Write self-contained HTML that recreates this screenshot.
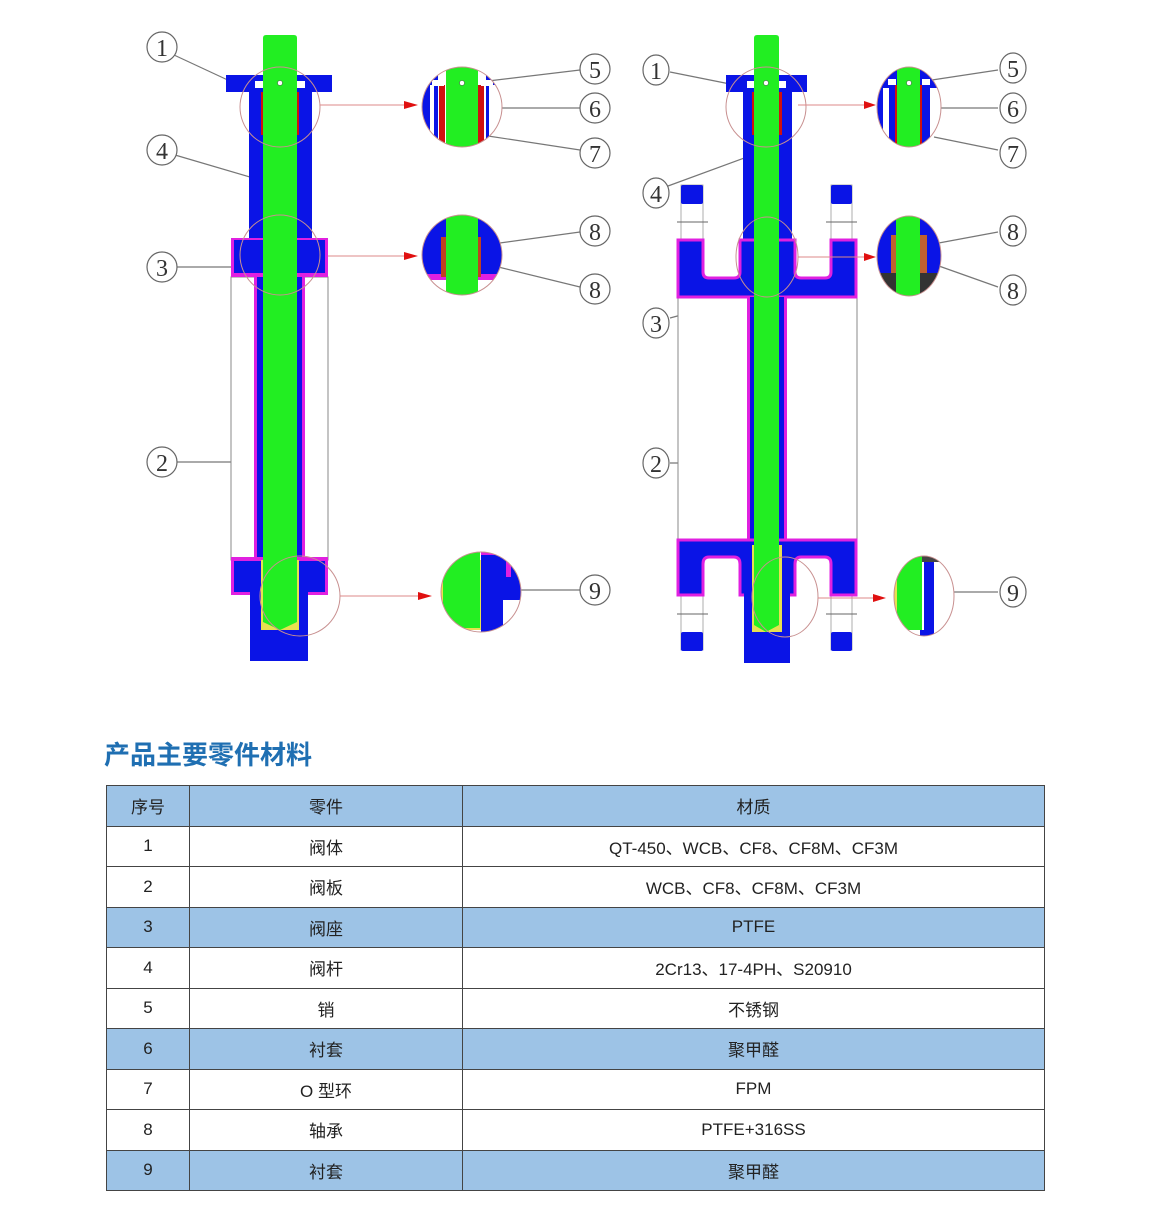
<!DOCTYPE html>
<html><head><meta charset="utf-8"><style>
html,body{margin:0;padding:0;background:#fff;width:1150px;height:1222px;overflow:hidden;position:relative;font-family:"Liberation Sans","Noto Sans CJK SC",sans-serif}
svg{position:absolute;left:0;top:0}
.title{position:absolute;left:104px;top:735px;font-size:26px;font-weight:bold;color:#1f6fb2;font-family:"Noto Sans CJK SC","WenQuanYi Zen Hei",sans-serif;letter-spacing:0px}
table{position:absolute;left:106px;top:785px;width:939px;height:406px;border-collapse:collapse;font-size:17px;color:#222}
td{border:1.5px solid #444;text-align:center;padding:0}
tr.b td{background:#9dc3e6}
</style></head><body>
<svg width="1150" height="720" viewBox="0 0 1150 720">
<defs>
<clipPath id="c1"><circle cx="462" cy="107" r="40"/></clipPath>
<clipPath id="c2"><circle cx="462" cy="255" r="40"/></clipPath>
<clipPath id="c3"><circle cx="481" cy="592" r="40"/></clipPath>
<clipPath id="c4"><ellipse cx="909" cy="107" rx="32" ry="40"/></clipPath>
<clipPath id="c5"><ellipse cx="909" cy="256" rx="32" ry="40"/></clipPath>
<clipPath id="c6"><ellipse cx="924" cy="596" rx="30" ry="40"/></clipPath>
</defs>
<g stroke="#777" stroke-width="1.2" fill="none">
<line x1="174" y1="55" x2="232" y2="82"/>
<line x1="175" y1="155" x2="277" y2="185"/>
<line x1="177" y1="267" x2="232" y2="267"/>
<line x1="177" y1="462" x2="256" y2="462"/>
<line x1="580" y1="70" x2="488" y2="81"/>
<line x1="580" y1="108" x2="481" y2="108"/>
<line x1="580" y1="150" x2="488" y2="136"/>
<line x1="580" y1="232" x2="485" y2="245"/>
<line x1="580" y1="287" x2="478" y2="262"/>
<line x1="580" y1="590" x2="500" y2="590"/>
<line x1="670" y1="72" x2="730" y2="84"/>
<line x1="668" y1="186" x2="766" y2="150"/>
<line x1="670" y1="318" x2="748" y2="297"/>
<line x1="670" y1="463" x2="749" y2="463"/>
<line x1="998" y1="70" x2="932" y2="80"/>
<line x1="998" y1="108" x2="926" y2="108"/>
<line x1="998" y1="150" x2="934" y2="137"/>
<line x1="998" y1="232" x2="928" y2="245"/>
<line x1="998" y1="287" x2="922" y2="260"/>
<line x1="998" y1="592" x2="924" y2="592"/>
</g>
<!-- LEFT -->
<rect x="231" y="277" width="97" height="283" fill="#fff" stroke="#888" stroke-width="1"/>
<rect x="226" y="75" width="106" height="17" fill="#0a14e6"/>
<rect x="249" y="92" width="63" height="150" fill="#0a14e6"/>
<rect x="255" y="81" width="8" height="7" fill="#fff"/><rect x="297" y="81" width="8" height="7" fill="#fff"/>
<rect x="231" y="238" width="97" height="39" fill="#e020e0"/>
<rect x="234" y="240" width="91" height="33" fill="#0a14e6"/>
<rect x="254" y="277" width="51" height="285" fill="#e020e0"/>
<rect x="257" y="277" width="45" height="285" fill="#0a14e6"/>
<rect x="231" y="557" width="97" height="38" fill="#e020e0"/>
<rect x="234" y="561" width="91" height="31" fill="#0a14e6"/>
<rect x="250" y="590" width="58" height="71" fill="#0a14e6"/>
<rect x="261" y="92" width="3" height="43" fill="#d01010"/><rect x="296" y="92" width="3" height="43" fill="#d01010"/>
<rect x="261" y="560" width="38" height="70" fill="#e8e050"/>
<path d="M263 38 Q263 35 266 35 L294 35 Q297 35 297 38 L297 622 L280 630 L263 622 Z" fill="#22ee22"/>
<circle cx="280" cy="83" r="2.5" fill="#fff" stroke="#444" stroke-width="0.5"/>
<g fill="none" stroke="#c89090" stroke-width="1">
<circle cx="280" cy="107" r="40"/><circle cx="280" cy="255" r="40"/><circle cx="300" cy="596" r="40"/>
</g>
<g clip-path="url(#c1)"><rect x="420" y="60" width="90" height="100" fill="#0a14e6"/><rect x="438" y="70" width="48" height="100" fill="#fff"/><rect x="430" y="85" width="4" height="80" fill="#fff"/><rect x="489" y="85" width="30" height="80" fill="#fff"/><rect x="439" y="85" width="6" height="60" fill="#d01010"/><rect x="478" y="85" width="6" height="60" fill="#d01010"/><rect x="446" y="60" width="32" height="100" fill="#22ee22"/><rect x="432" y="80" width="12" height="6" fill="#fff"/><rect x="481" y="80" width="12" height="6" fill="#fff"/></g>
<circle cx="462" cy="83" r="2.5" fill="#fff" stroke="#444" stroke-width="0.5"/>
<g clip-path="url(#c2)"><rect x="420" y="210" width="90" height="95" fill="#0a14e6"/><rect x="420" y="274" width="90" height="6" fill="#e020e0"/><rect x="420" y="280" width="90" height="20" fill="#fff"/><rect x="441" y="237" width="40" height="40" fill="#c04020"/><rect x="446" y="210" width="32" height="95" fill="#22ee22"/></g>
<g clip-path="url(#c3)"><rect x="440" y="550" width="90" height="90" fill="#fff"/><rect x="481" y="555" width="40" height="45" fill="#0a14e6"/><rect x="481" y="550" width="30" height="5" fill="#e020e0"/><rect x="506" y="555" width="5" height="22" fill="#e020e0"/><rect x="481" y="600" width="22" height="40" fill="#0a14e6"/><rect x="441" y="560" width="40" height="70" fill="#e8e050"/><rect x="443" y="550" width="37" height="78" fill="#22ee22"/></g>
<g fill="none" stroke="#c89090"><circle cx="462" cy="107" r="40"/><circle cx="462" cy="255" r="40"/><circle cx="481" cy="592" r="40"/></g>
<!-- RIGHT -->
<rect x="678" y="297" width="179" height="245" fill="#fff" stroke="#888" stroke-width="1"/>
<rect x="681" y="185" width="22" height="57" fill="#fff" stroke="#999" stroke-width="0.8"/>
<rect x="831" y="185" width="21" height="57" fill="#fff" stroke="#999" stroke-width="0.8"/>
<rect x="681" y="593" width="22" height="57" fill="#fff" stroke="#999" stroke-width="0.8"/>
<rect x="831" y="593" width="21" height="57" fill="#fff" stroke="#999" stroke-width="0.8"/>
<rect x="681" y="185" width="22" height="19" rx="2" fill="#0a14e6"/><rect x="831" y="185" width="21" height="19" rx="2" fill="#0a14e6"/>
<rect x="681" y="632" width="22" height="19" rx="2" fill="#0a14e6"/><rect x="831" y="632" width="21" height="19" rx="2" fill="#0a14e6"/>
<g stroke="#666" stroke-width="1"><line x1="677" y1="222" x2="708" y2="222"/><line x1="826" y1="222" x2="857" y2="222"/><line x1="677" y1="614" x2="708" y2="614"/><line x1="826" y1="614" x2="857" y2="614"/></g>
<rect x="726" y="75" width="81" height="17" fill="#0a14e6"/>
<rect x="743" y="92" width="49" height="150" fill="#0a14e6"/>
<rect x="747" y="81" width="8" height="7" fill="#fff"/><rect x="778" y="81" width="8" height="7" fill="#fff"/>
<path d="M678 240 L703 240 L703 272 Q703 278 709 278 L734 278 Q740 278 740 272 L740 240 L795 240 L795 272 Q795 278 801 278 L825 278 Q831 278 831 272 L831 240 L856 240 L856 297 L678 297 Z" fill="#0a14e6" stroke="#e020e0" stroke-width="3"/>
<rect x="747" y="297" width="40" height="245" fill="#e020e0"/>
<rect x="750" y="297" width="34" height="245" fill="#0a14e6"/>
<path d="M678 540 L856 540 L856 595 L831 595 L831 564 Q831 557 825 557 L801 557 Q795 557 795 564 L795 595 L740 595 L740 564 Q740 557 734 557 L709 557 Q703 557 703 564 L703 595 L678 595 Z" fill="#0a14e6" stroke="#e020e0" stroke-width="3"/>
<rect x="744" y="590" width="46" height="73" fill="#0a14e6"/>
<rect x="752" y="92" width="3" height="43" fill="#d01010"/><rect x="779" y="92" width="3" height="43" fill="#d01010"/>
<rect x="752" y="545" width="30" height="87" fill="#e8e050"/>
<path d="M754 38 Q754 35 757 35 L776 35 Q779 35 779 38 L779 625 L766 632 L754 625 Z" fill="#22ee22"/>
<circle cx="766" cy="83" r="2.5" fill="#fff" stroke="#444" stroke-width="0.5"/>
<g fill="none" stroke="#c89090" stroke-width="1">
<circle cx="766" cy="107" r="40"/><ellipse cx="767" cy="257" rx="31" ry="40"/><ellipse cx="785" cy="597" rx="33" ry="40"/>
</g>
<g clip-path="url(#c4)"><rect x="875" y="65" width="70" height="90" fill="#0a14e6"/><rect x="883" y="88" width="6" height="70" fill="#fff"/><rect x="930" y="88" width="20" height="70" fill="#fff"/><rect x="895" y="85" width="3" height="60" fill="#d01010"/><rect x="919" y="85" width="3" height="60" fill="#d01010"/><rect x="897" y="65" width="23" height="90" fill="#22ee22"/><rect x="888" y="79" width="8" height="6" fill="#fff"/><rect x="922" y="79" width="8" height="6" fill="#fff"/></g>
<circle cx="909" cy="83" r="2.5" fill="#fff" stroke="#444" stroke-width="0.5"/>
<g clip-path="url(#c5)"><rect x="875" y="215" width="70" height="85" fill="#0a14e6"/><rect x="891" y="235" width="36" height="38" fill="#c06030"/><rect x="875" y="273" width="70" height="30" fill="#333"/><rect x="896" y="215" width="24" height="90" fill="#22ee22"/></g>
<g clip-path="url(#c6)"><rect x="890" y="550" width="70" height="95" fill="#fff"/><rect x="924" y="560" width="10" height="80" fill="#0a14e6"/><rect x="920" y="630" width="14" height="10" fill="#0a14e6"/><rect x="920" y="552" width="25" height="10" fill="#444"/><rect x="894" y="555" width="4" height="80" fill="#e8e050"/><rect x="897" y="552" width="25" height="78" fill="#22ee22"/></g>
<g fill="none" stroke="#c89090"><ellipse cx="909" cy="107" rx="32" ry="40"/><ellipse cx="909" cy="256" rx="32" ry="40"/><ellipse cx="924" cy="596" rx="30" ry="40"/></g>
<g stroke="#d88" stroke-width="1">
<line x1="320" y1="105" x2="406" y2="105"/><line x1="328" y1="256" x2="406" y2="256"/><line x1="340" y1="596" x2="420" y2="596"/>
<line x1="798" y1="105" x2="866" y2="105"/><line x1="798" y1="257" x2="866" y2="257"/><line x1="818" y1="598" x2="875" y2="598"/>
</g>
<g fill="#e01010">
<path d="M404 101 L418 105 L404 109 Z"/><path d="M404 252 L418 256 L404 260 Z"/><path d="M418 592 L432 596 L418 600 Z"/>
<path d="M864 101 L876 105 L864 109 Z"/><path d="M864 253 L876 257 L864 261 Z"/><path d="M873 594 L886 598 L873 602 Z"/>
</g>
<g fill="#fff" stroke="#666" stroke-width="1.2">
<circle cx="162" cy="47" r="15"/><circle cx="162" cy="150" r="15"/><circle cx="162" cy="267" r="15"/><circle cx="162" cy="462" r="15"/>
<circle cx="595" cy="69" r="15"/><circle cx="595" cy="108" r="15"/><circle cx="595" cy="153" r="15"/><circle cx="595" cy="231" r="15"/><circle cx="595" cy="289" r="15"/><circle cx="595" cy="590" r="15"/>
<ellipse cx="656" cy="70" rx="13" ry="15"/><ellipse cx="656" cy="193" rx="13" ry="15"/><ellipse cx="656" cy="323" rx="13" ry="15"/><ellipse cx="656" cy="463" rx="13" ry="15"/>
<ellipse cx="1013" cy="68" rx="13" ry="15"/><ellipse cx="1013" cy="108" rx="13" ry="15"/><ellipse cx="1013" cy="153" rx="13" ry="15"/><ellipse cx="1013" cy="231" rx="13" ry="15"/><ellipse cx="1013" cy="290" rx="13" ry="15"/><ellipse cx="1013" cy="592" rx="13" ry="15"/>
</g>
<g font-family="Liberation Serif,serif" font-size="24" fill="#333" text-anchor="middle">
<text x="162" y="56">1</text><text x="162" y="159">4</text><text x="162" y="276">3</text><text x="162" y="471">2</text>
<text x="595" y="78">5</text><text x="595" y="117">6</text><text x="595" y="162">7</text><text x="595" y="240">8</text><text x="595" y="298">8</text><text x="595" y="599">9</text>
<text x="656" y="79">1</text><text x="656" y="202">4</text><text x="656" y="332">3</text><text x="656" y="472">2</text>
<text x="1013" y="77">5</text><text x="1013" y="117">6</text><text x="1013" y="162">7</text><text x="1013" y="240">8</text><text x="1013" y="299">8</text><text x="1013" y="601">9</text>
</g>
</svg>
<div class="title">产品主要零件材料</div>
<table>
<colgroup><col style="width:83px"><col style="width:273px"><col></colgroup>
<tr class="b"><td>序号</td><td>零件</td><td>材质</td></tr>
<tr><td>1</td><td>阀体</td><td>QT-450、WCB、CF8、CF8M、CF3M</td></tr>
<tr><td>2</td><td>阀板</td><td>WCB、CF8、CF8M、CF3M</td></tr>
<tr class="b"><td>3</td><td>阀座</td><td>PTFE</td></tr>
<tr><td>4</td><td>阀杆</td><td>2Cr13、17-4PH、S20910</td></tr>
<tr><td>5</td><td>销</td><td>不锈钢</td></tr>
<tr class="b"><td>6</td><td>衬套</td><td>聚甲醛</td></tr>
<tr><td>7</td><td>O 型环</td><td>FPM</td></tr>
<tr><td>8</td><td>轴承</td><td>PTFE+316SS</td></tr>
<tr class="b"><td>9</td><td>衬套</td><td>聚甲醛</td></tr>
</table>
</body></html>
